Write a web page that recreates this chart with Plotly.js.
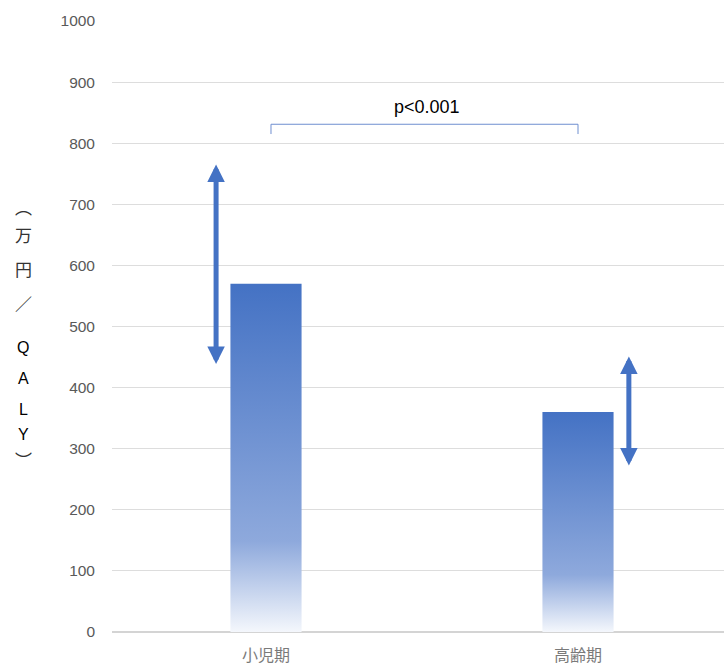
<!DOCTYPE html>
<html>
<head>
<meta charset="utf-8">
<script src="https://cdn.plot.ly/plotly-3.0.1.min.js"></script>
<style>
  html, body { margin: 0; padding: 0; background: #fff; }
  #chart { width: 724px; height: 668px; }
</style>
</head>
<body>
<div id="chart"></div>
<script>
// ---- data ----
const categories = ['小児期', '高齢期'];
const values = [570, 360];
const rangeLow = [436, 270];
const rangeHigh = [765, 451];
const pLabel = 'p<0.001';
const bracketLow = 815;
const bracketHigh = 831;
const pLabelY = 859;
const yTickVals = [0, 100, 200, 300, 400, 500, 600, 700, 800, 900, 1000];
const yTitleChars = ['︵', '万', '円', '／', 'Q', 'A', 'L', 'Y', '︶'];

// ---- styling / placement constants ----
const BLUE = '#4472C4';
const catPos = categories.map((c, i) => i);
const arrowOffset = [-0.16, 0.163];
const bracketStart = 0.016;
const yTitlePx = [207, 235, 268, 303, 347, 379, 409, 435, 460];
const plotTop = 21, plotBottom = 632;

const barTrace = {
  type: 'bar',
  x: catPos,
  y: values,
  width: 0.228,
  marker: { color: BLUE, line: { width: 0 } },
  hoverinfo: 'skip'
};

const bracketTrace = {
  type: 'scatter',
  mode: 'lines',
  x: [catPos[0] + bracketStart, catPos[0] + bracketStart, catPos[1], catPos[1]],
  y: [bracketLow, bracketHigh, bracketHigh, bracketLow],
  line: { color: '#6F8FD0', width: 1 },
  hoverinfo: 'skip'
};

const annotations = [];
catPos.forEach((p, i) => {
  annotations.push({
    x: p + arrowOffset[i], y: rangeHigh[i],
    ax: p + arrowOffset[i], ay: rangeLow[i],
    xref: 'x', yref: 'y', axref: 'x', ayref: 'y',
    text: '', showarrow: true,
    arrowside: 'end+start',
    arrowhead: 2, startarrowhead: 2,
    arrowsize: 0.7, startarrowsize: 0.7,
    arrowwidth: 5, arrowcolor: BLUE,
    standoff: 0, startstandoff: 0
  });
});
annotations.push({
  x: (catPos[0] + catPos[1]) / 2 + 0.016, y: pLabelY,
  xref: 'x', yref: 'y', text: pLabel, showarrow: false,
  font: { family: 'Liberation Sans, Arial, sans-serif', size: 18, color: '#000' }
});
yTitleChars.forEach((ch, i) => {
  const latin = /[A-Z]/.test(ch);
  annotations.push({
    x: 0, xref: 'paper', xshift: 23 - 112, xanchor: 'center',
    y: (plotBottom - yTitlePx[i]) / (plotBottom - plotTop), yref: 'paper', yanchor: 'middle',
    text: ch, showarrow: false,
    font: {
      family: latin ? 'Liberation Sans, Arial, sans-serif' : 'Noto Sans CJK JP, sans-serif',
      size: latin ? 16 : 17, color: latin ? '#000' : '#333'
    }
  });
});

const layout = {
  width: 724, height: 668,
  margin: { l: 112, r: 0, t: 21, b: 36, pad: 0 },
  paper_bgcolor: '#fff', plot_bgcolor: '#fff',
  showlegend: false,
  xaxis: {
    range: [-154 / 312, -154 / 312 + 612 / 312],
    tickvals: catPos, ticktext: categories,
    showgrid: false, zeroline: false, showline: false, ticks: '',
    ticklabelstandoff: 12,
    tickfont: { family: 'Noto Sans CJK JP, sans-serif', size: 16, color: '#7a7a7a' },
    fixedrange: true
  },
  yaxis: {
    range: [0, 1000],
    tickvals: yTickVals,
    showgrid: true, gridcolor: '#DDDDDD', gridwidth: 1,
    zeroline: true, zerolinecolor: '#D4D4D4', zerolinewidth: 2,
    showline: false, ticks: '',
    ticklabelstandoff: 16,
    tickfont: { family: 'Liberation Sans, Arial, sans-serif', size: 15.5, color: '#595959' },
    fixedrange: true
  },
  annotations: annotations
};

Plotly.newPlot('chart', [barTrace, bracketTrace], layout, { staticPlot: true, displayModeBar: false }).then(gd => {
  const ns = 'http://www.w3.org/2000/svg';
  const svg = gd.querySelector('.main-svg');
  let defs = svg.querySelector('defs');
  if (!defs) { defs = document.createElementNS(ns, 'defs'); svg.insertBefore(defs, svg.firstChild); }
  const lg = document.createElementNS(ns, 'linearGradient');
  lg.setAttribute('id', 'barGrad');
  lg.setAttribute('x1', '0'); lg.setAttribute('y1', '0');
  lg.setAttribute('x2', '0'); lg.setAttribute('y2', '1');
  [[0, '#4472C4'], [0.74, '#8EA9DC'], [1, '#F4F7FC']].forEach(([o, c]) => {
    const s = document.createElementNS(ns, 'stop');
    s.setAttribute('offset', o); s.setAttribute('stop-color', c);
    lg.appendChild(s);
  });
  defs.appendChild(lg);
  gd.querySelectorAll('.bars .point path').forEach(p => { p.style.fill = 'url(#barGrad)'; });
});
</script>
</body>
</html>
